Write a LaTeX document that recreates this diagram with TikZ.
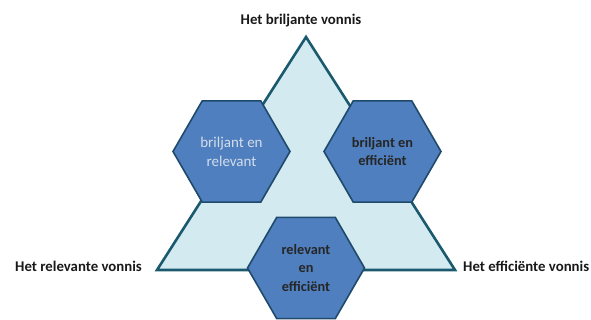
\documentclass[tikz,border=0pt]{standalone}
\usepackage{fontspec}
\setmainfont{Carlito}
\usetikzlibrary{shapes.geometric, calc}
\definecolor{trifill}{HTML}{D3EBF0}
\definecolor{triedge}{HTML}{1B5A6E}
\definecolor{hexfill}{HTML}{4F7FBE}
\definecolor{hexedge}{HTML}{1F4A6B}
\definecolor{palefont}{HTML}{D3DDEA}
\tikzset{
  hexa/.style={regular polygon, regular polygon sides=6, draw=hexedge, line width=1.6pt,
               fill=hexfill, minimum size=117pt, inner sep=0pt, align=center,
               font=\fontsize{14.3}{18.5}\selectfont\bfseries, text=black!85},
  hexpale/.style={hexa, text=palefont, font=\fontsize{15}{19}\selectfont},
  vonnis/.style={font=\fontsize{14.8}{18}\selectfont\bfseries, text=black!90, inner sep=0pt},
}
\begin{document}
\begin{tikzpicture}[x=1pt, y=-1pt]
  \useasboundingbox (0,0) rectangle (591,320);
  % the three corners
  \coordinate (top) at (306,37);
  \coordinate (lft) at (157,270);
  \coordinate (rgt) at (455,270);
  \filldraw[fill=trifill, draw=triedge, line width=2.6pt, line join=miter]
    (top) -- (lft) -- (rgt) -- cycle;
  % hexagons sit on the middle of each side
  \node[hexpale] (hbr) at ($(top)!0.5!(lft)+(0,-2)$) {briljant en\\relevant};
  \node[hexa] (hbe) at ($(top)!0.5!(rgt)+(2,-2)$) {briljant en\\efficiënt};
  \node[hexa] (hre) at ($(lft)!0.5!(rgt)+(0,-2)$) {relevant\\en\\efficiënt};
  % corner labels
  \node[vonnis] (vbril) at (301,21) {Het briljante vonnis};
  \node[vonnis, anchor=east] (vrel) at (142,266) {Het relevante vonnis};
  \node[vonnis, anchor=west] (veff) at (463,266) {Het efficiënte vonnis};
\end{tikzpicture}
\end{document}
